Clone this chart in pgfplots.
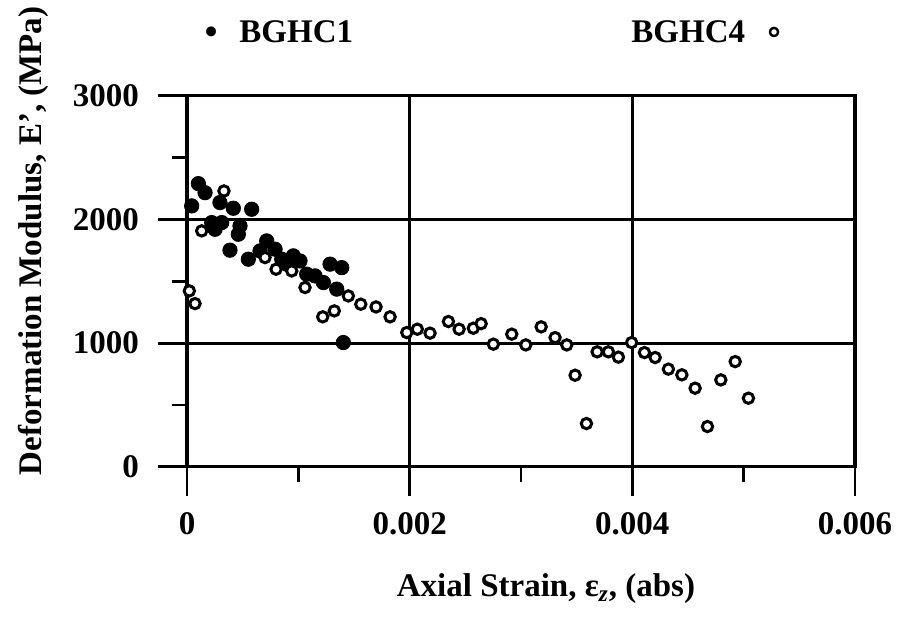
\documentclass[border=0pt]{standalone}
\usepackage{fontspec}
\setmainfont{Liberation Serif}
\newfontfamily\symfont{DejaVu Sans}
\usepackage{pgfplots}
\pgfplotsset{compat=1.18}

% BGHC1: deformation modulus vs axial strain
\pgfplotstableread{
x y
0.000102 2290
0.000162 2217
0.000042 2110
0.000296 2137
0.000416 2091
0.000581 2083
0.000222 1975
0.000312 1975
0.000252 1921
0.000476 1948
0.000461 1881
0.000386 1752
0.000551 1679
0.000716 1827
0.000656 1746
0.000791 1760
0.000851 1679
0.000955 1706
0.001015 1665
0.000896 1639
0.001075 1558
0.001150 1544
0.001225 1490
0.001285 1639
0.001390 1611
0.001345 1437
0.001404 1005
}\bghcone

% BGHC4: deformation modulus vs axial strain
\pgfplotstableread{
x y
0.000332 2231
0.000132 1908
0.000021 1423
0.000072 1320
0.000701 1692
0.000800 1598
0.000941 1584
0.001060 1450
0.001219 1213
0.001323 1261
0.001449 1382
0.001561 1315
0.001698 1293
0.001824 1213
0.001974 1086
0.002069 1113
0.002183 1081
0.002348 1175
0.002444 1113
0.002572 1121
0.002642 1158
0.002752 992
0.002917 1073
0.003043 986
0.003181 1132
0.003306 1045
0.003411 986
0.003486 741
0.003588 350
0.003684 930
0.003785 930
0.003875 887
0.003994 1005
0.004109 924
0.004205 884
0.004324 790
0.004445 744
0.004564 636
0.004675 326
0.004795 703
0.004924 851
0.005043 555
}\bghcfour

\newcommand\lbl{\bfseries\fontsize{16.5}{18}\selectfont}

\begin{document}
\begin{tikzpicture}
\path (0,0) rectangle (450.5pt,308pt);
\begin{axis}[
  at={(93.5pt,75pt)}, anchor=south west,
  scale only axis, width=334pt, height=185.5pt,
  xmin=0, xmax=0.006, ymin=0, ymax=3000,
  xtick={0,0.002,0.004,0.006}, xticklabels={0,0.002,0.004,0.006},
  minor xtick={0.001,0.003,0.005},
  ytick={0,1000,2000,3000}, yticklabels={0,1000,2000,3000},
  minor ytick={500,1500,2500},
  scaled x ticks=false,
  xtick pos=lower, ytick pos=left,
  tick align=outside,
  major tick length=14.5pt, minor tick length=7.5pt,
  every tick/.style={black, line width=1.4pt},
  axis line style={line width=1.6pt},
  grid=major, major grid style={black, line width=1.5pt},
  ticklabel style={font=\lbl},
  xticklabel style={yshift=-5pt},
  yticklabel style={xshift=-6pt},
  clip=false,
]
\addplot[only marks, mark=*, mark size=3.6pt, mark options={fill=black, draw=black}]
  table[x=x, y=y] {\bghcone};
\addplot[only marks, mark=*, mark size=2.6pt, mark options={fill=white, draw=black, line width=1.5pt}]
  table[x=x, y=y] {\bghcfour};
\end{axis}
% axis titles
\node[font=\lbl] at (273pt,14pt) {Axial Strain, ε\textsubscript{\itshape z}, (abs)};
\node[font=\lbl, rotate=90] at (16.5pt,188pt) {Deformation Modulus, E', (MPa)};
% legend
\node[anchor=base, font=\symfont\fontsize{17}{17}\selectfont] at (106pt,286pt) {•};
\node[anchor=base west, font=\lbl, inner sep=0] at (119.5pt,287pt) {BGHC1};
\node[anchor=base west, font=\lbl, inner sep=0] at (315.5pt,287pt) {BGHC4};
\node[anchor=base, font=\symfont\bfseries\fontsize{16}{16}\selectfont] at (387.5pt,287pt) {∘};
\end{tikzpicture}
\end{document}
